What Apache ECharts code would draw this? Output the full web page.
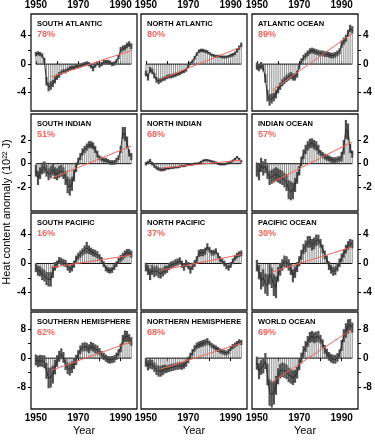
<!DOCTYPE html>
<html>
<head>
<meta charset="utf-8">
<script src="https://cdn.jsdelivr.net/npm/echarts@6/dist/echarts.min.js"></script>
<style>
  html, body { margin: 0; padding: 0; background: #fff; }
  #chart { width: 375px; height: 440px; }
</style>
</head>
<body>
<div id="chart"></div>
<script>
// years of the record, one value per year
const years = [1950, 1951, 1952, 1953, 1954, 1955, 1956, 1957, 1958, 1959,
  1960, 1961, 1962, 1963, 1964, 1965, 1966, 1967, 1968, 1969,
  1970, 1971, 1972, 1973, 1974, 1975, 1976, 1977, 1978, 1979,
  1980, 1981, 1982, 1983, 1984, 1985, 1986, 1987, 1988, 1989,
  1990, 1991, 1992, 1993, 1994, 1995];
const trendYears = [1957, 1995];

const xTicks = [1950, 1960, 1970, 1980, 1990];
const xLabels = [1950, 1970, 1990];
const rowTicks = [[-4, -2, 0, 2, 4], [-2, -1, 0, 1, 2], [-4, -2, 0, 2, 4], [-8, -4, 0, 4, 8]];
const rowLabels = [[-4, 0, 4], [-2, 0, 2], [-4, 0, 4], [-8, 0, 8]];

// heat content anomaly, 10^22 J
const southAtlantic = [1.4, 1.5, 1.4, 1.2, 0.5, -2.4, -3.2, -3.0, -2.7, -2.2,
  -1.8, -1.5, -1.2, -1.0, -1.0, -0.8, -0.6, -0.5, -0.5, -0.3,
  -0.3, -0.2, -0.1, 0.0, 0.1, 0.0, -0.3, -0.6, -0.2, 0.1,
  -0.2, 0.0, 0.3, 0.3, 0.3, 0.2, 0.0, 0.1, 0.4, 1.0,
  2.0, 2.2, 2.3, 2.6, 2.8, 2.5];
const southAtlanticErr = [0.3, 0.3, 0.3, 0.3, 0.4, 0.6, 0.6, 0.6, 0.5, 0.5,
  0.4, 0.4, 0.3, 0.3, 0.3, 0.3, 0.3, 0.3, 0.3, 0.3,
  0.3, 0.3, 0.3, 0.3, 0.3, 0.3, 0.3, 0.4, 0.3, 0.3,
  0.3, 0.3, 0.3, 0.3, 0.3, 0.3, 0.3, 0.3, 0.3, 0.3,
  0.4, 0.4, 0.4, 0.4, 0.4, 0.4];
const southAtlanticTrend = [-1.8, 1.9];

const northAtlantic = [-1.3, -1.8, -0.8, -1.0, -1.6, -2.2, -2.4, -2.3, -2.1, -2.0,
  -1.8, -1.7, -1.7, -1.6, -1.5, -1.4, -1.3, -1.1, -1.0, -0.8,
  -0.3, 0.1, 0.4, 0.9, 1.4, 1.8, 1.9, 1.9, 1.8, 1.7,
  1.5, 1.3, 1.2, 1.1, 1.1, 1.1, 1.0, 1.0, 1.0, 1.1,
  1.2, 1.3, 1.5, 1.9, 2.3, 2.7];
const northAtlanticErr = [0.4, 0.5, 0.4, 0.4, 0.4, 0.4, 0.4, 0.3, 0.3, 0.3,
  0.3, 0.3, 0.3, 0.3, 0.3, 0.25, 0.25, 0.25, 0.25, 0.25,
  0.25, 0.25, 0.25, 0.25, 0.25, 0.25, 0.25, 0.25, 0.25, 0.25,
  0.2, 0.2, 0.2, 0.2, 0.2, 0.2, 0.2, 0.2, 0.2, 0.2,
  0.25, 0.25, 0.25, 0.3, 0.3, 0.3];
const northAtlanticTrend = [-2.1, 2.4];

const atlanticOcean = [-0.3, -0.5, -0.2, -0.5, -2.0, -4.4, -5.0, -4.8, -4.6, -4.2,
  -3.6, -3.1, -2.6, -2.3, -2.0, -1.8, -1.6, -1.8, -1.8, -1.4,
  -0.3, 0.4, 0.9, 1.2, 1.5, 1.8, 1.9, 1.8, 1.7, 1.6,
  1.5, 1.5, 1.4, 1.4, 1.3, 1.2, 1.2, 1.3, 1.5, 1.8,
  2.8, 3.2, 3.6, 4.3, 5.0, 4.8];
const atlanticOceanErr = [0.5, 0.5, 0.5, 0.5, 0.6, 0.8, 0.8, 0.7, 0.6, 0.6,
  0.5, 0.5, 0.5, 0.5, 0.5, 0.5, 0.5, 0.5, 0.5, 0.5,
  0.4, 0.4, 0.4, 0.4, 0.4, 0.4, 0.4, 0.4, 0.4, 0.4,
  0.4, 0.4, 0.4, 0.4, 0.4, 0.4, 0.4, 0.4, 0.4, 0.4,
  0.5, 0.5, 0.5, 0.5, 0.5, 0.5];
const atlanticOceanTrend = [-3.7, 4.3];

const southIndian = [-0.6, -1.2, -0.8, -0.4, -0.3, -0.6, -0.9, -0.7, -0.5, -0.8,
  -0.9, -0.7, -0.6, -0.8, -1.2, -1.8, -2.0, -1.7, -1.0, -0.3,
  0.2, 0.6, 1.0, 1.2, 1.4, 1.6, 1.6, 1.5, 1.2, 0.8,
  0.5, 0.4, 0.3, 0.3, 0.2, 0.1, 0.1, 0.1, 0.3, 0.5,
  1.2, 2.6, 2.5, 1.8, 0.9, 0.6];
const southIndianErr = [0.5, 0.6, 0.5, 0.5, 0.5, 0.5, 0.5, 0.5, 0.5, 0.5,
  0.5, 0.5, 0.5, 0.5, 0.6, 0.7, 0.7, 0.6, 0.5, 0.4,
  0.3, 0.3, 0.3, 0.3, 0.3, 0.3, 0.3, 0.3, 0.3, 0.3,
  0.2, 0.2, 0.2, 0.2, 0.2, 0.2, 0.2, 0.2, 0.2, 0.2,
  0.3, 0.5, 0.6, 0.5, 0.3, 0.3];
const southIndianTrend = [-1.25, 1.5];

const northIndian = [0.0, 0.1, 0.25, 0.0, -0.2, -0.35, -0.45, -0.5, -0.5, -0.45,
  -0.4, -0.4, -0.35, -0.35, -0.3, -0.3, -0.25, -0.2, -0.2, -0.15,
  -0.1, -0.1, -0.05, 0.0, 0.0, 0.05, 0.15, 0.25, 0.3, 0.3,
  0.25, 0.2, 0.15, 0.1, 0.0, -0.05, -0.05, -0.05, 0.0, 0.05,
  0.15, 0.25, 0.4, 0.55, 0.4, 0.2];
const northIndianErr = [0.15, 0.15, 0.15, 0.15, 0.15, 0.15, 0.15, 0.15, 0.15, 0.15,
  0.1, 0.1, 0.1, 0.1, 0.1, 0.1, 0.1, 0.1, 0.1, 0.1,
  0.1, 0.1, 0.1, 0.1, 0.1, 0.1, 0.1, 0.1, 0.1, 0.1,
  0.1, 0.1, 0.1, 0.1, 0.1, 0.1, 0.1, 0.1, 0.1, 0.1,
  0.1, 0.1, 0.1, 0.1, 0.1, 0.1];
const northIndianTrend = [-0.38, 0.3];

const indianOcean = [-0.5, -0.7, -0.1, -0.4, -0.2, -0.7, -1.2, -1.1, -1.0, -0.9,
  -1.0, -1.1, -1.2, -1.4, -1.6, -2.2, -2.3, -2.3, -1.8, -1.2,
  -0.6, 0.2, 0.8, 1.2, 1.5, 1.7, 1.75, 1.6, 1.5, 1.2,
  0.9, 0.75, 0.6, 0.5, 0.45, 0.35, 0.3, 0.3, 0.35, 0.4,
  0.6, 1.4, 2.9, 2.7, 1.3, 0.8];
const indianOceanErr = [0.6, 0.7, 0.6, 0.6, 0.6, 0.6, 0.6, 0.6, 0.6, 0.6,
  0.6, 0.6, 0.6, 0.6, 0.7, 0.8, 0.8, 0.7, 0.6, 0.5,
  0.4, 0.4, 0.4, 0.4, 0.4, 0.4, 0.4, 0.4, 0.4, 0.4,
  0.25, 0.25, 0.25, 0.25, 0.25, 0.25, 0.25, 0.25, 0.25, 0.25,
  0.4, 0.6, 0.8, 0.7, 0.4, 0.3];
const indianOceanTrend = [-1.6, 1.85];

const southPacific = [-0.6, -1.0, -1.1, -1.5, -1.7, -2.1, -2.2, -2.2, -1.2, -0.4,
  -0.1, 0.4, 0.3, 0.1, 0.0, -0.5, -0.8, -0.6, -0.1, 0.6,
  1.0, 1.3, 1.6, 1.9, 2.2, 1.9, 1.7, 1.5, 1.4, 1.2,
  0.9, 0.5, -0.1, -0.7, -0.9, -1.0, -0.9, -0.5, -0.1, 0.4,
  0.7, 1.0, 1.3, 1.5, 1.5, 1.3];
const southPacificErr = [0.6, 0.7, 0.7, 0.8, 0.8, 0.9, 1.0, 1.0, 0.8, 0.6,
  0.5, 0.5, 0.5, 0.5, 0.5, 0.5, 0.5, 0.5, 0.5, 0.5,
  0.5, 0.5, 0.5, 0.6, 0.8, 0.6, 0.5, 0.5, 0.5, 0.5,
  0.4, 0.4, 0.4, 0.4, 0.4, 0.4, 0.4, 0.4, 0.4, 0.4,
  0.5, 0.5, 0.5, 0.5, 0.5, 0.5];
const southPacificTrend = [-0.55, 1.15];

const northPacific = [-0.5, -0.9, -1.5, -0.9, -1.2, -1.0, -1.3, -1.4, -1.2, -0.9,
  -0.8, -0.4, -0.2, -0.1, 0.1, 0.2, 0.35, -0.1, -0.5, 0.0,
  -0.3, -0.9, -0.4, 0.0, 0.5, 1.4, 1.5, 1.5, 1.7, 2.3,
  1.9, 1.5, 1.5, 1.7, 1.1, 0.6, 0.3, 0.0, -0.4, -0.6,
  -0.2, 0.3, 0.8, 1.1, 1.3, 1.4];
const northPacificErr = [0.6, 0.7, 0.8, 0.7, 0.7, 0.7, 0.7, 0.7, 0.6, 0.6,
  0.5, 0.5, 0.5, 0.5, 0.5, 0.5, 0.5, 0.5, 0.5, 0.5,
  0.5, 0.5, 0.5, 0.5, 0.5, 0.5, 0.5, 0.5, 0.5, 0.5,
  0.4, 0.4, 0.4, 0.4, 0.4, 0.4, 0.4, 0.4, 0.4, 0.4,
  0.4, 0.4, 0.4, 0.4, 0.4, 0.4];
const northPacificTrend = [-0.95, 1.25];

const pacificOcean = [-0.3, -1.2, -2.4, -2.0, -2.8, -3.0, -1.5, -2.0, -3.0, -3.3,
  -1.5, -0.8, -0.2, 0.3, 0.2, -0.2, -0.8, -1.7, -1.2, -0.5,
  0.3, 1.2, 2.0, 2.4, 3.0, 3.0, 2.6, 2.8, 3.2, 3.3,
  2.8, 2.0, 1.2, 0.5, -0.3, -0.8, -1.1, -1.0, -0.5, 0.1,
  0.8, 1.4, 2.0, 2.5, 2.8, 2.7];
const pacificOceanErr = [0.8, 1.0, 1.2, 1.2, 1.4, 1.5, 1.4, 1.4, 1.5, 1.5,
  1.0, 0.9, 0.8, 0.8, 0.8, 0.8, 0.8, 0.9, 0.8, 0.7,
  0.7, 0.7, 0.7, 0.8, 0.8, 0.8, 0.8, 0.8, 0.8, 0.7,
  0.6, 0.6, 0.6, 0.6, 0.6, 0.6, 0.6, 0.6, 0.6, 0.6,
  0.6, 0.6, 0.6, 0.6, 0.6, 0.6];
const pacificOceanTrend = [-1.2, 2.3];

const southernHemisphere = [-0.5, -0.9, -0.7, -0.8, -1.0, -3.5, -5.5, -5.3, -4.5, -2.5,
  -0.8, 0.5, 1.2, 0.2, -1.8, -2.8, -3.2, -2.5, -1.5, -0.5,
  1.0, 2.3, 3.0, 3.2, 3.0, 2.6, 3.3, 3.0, 2.6, 2.3,
  1.8, 1.0, 0.5, 0.0, -0.4, -0.5, -0.4, -0.2, 0.5, 1.5,
  2.8, 5.0, 6.0, 6.0, 5.3, 4.6];
const southernHemisphereErr = [1.5, 1.6, 1.6, 1.6, 1.8, 2.2, 2.8, 2.8, 2.5, 2.0,
  1.6, 1.5, 1.5, 1.5, 1.5, 1.6, 1.6, 1.6, 1.5, 1.4,
  1.2, 1.2, 1.2, 1.2, 1.2, 1.2, 1.2, 1.2, 1.2, 1.2,
  1.0, 1.0, 1.0, 1.0, 1.0, 1.0, 1.0, 1.0, 1.0, 1.0,
  1.2, 1.4, 1.6, 1.5, 1.3, 1.2];
const southernHemisphereTrend = [-3.4, 4.5];

const northernHemisphere = [-1.2, -2.0, -1.6, -1.8, -2.5, -3.2, -3.6, -3.6, -3.3, -3.0,
  -3.0, -2.8, -2.6, -2.5, -2.3, -2.2, -2.1, -2.2, -1.9, -1.4,
  -0.5, 0.6, 1.6, 2.7, 3.4, 3.7, 3.9, 4.1, 4.3, 4.6,
  4.1, 3.5, 3.1, 2.8, 2.4, 2.0, 1.8, 1.6, 1.4, 1.8,
  2.7, 3.2, 3.6, 4.0, 4.5, 4.3];
const northernHemisphereErr = [1.2, 1.4, 1.3, 1.3, 1.3, 1.4, 1.5, 1.5, 1.4, 1.2,
  1.0, 1.0, 1.0, 1.0, 1.0, 1.0, 1.0, 1.0, 1.0, 1.0,
  0.9, 0.9, 0.9, 0.9, 0.9, 0.9, 0.9, 0.9, 0.9, 0.9,
  0.7, 0.7, 0.7, 0.7, 0.7, 0.7, 0.7, 0.7, 0.7, 0.7,
  0.7, 0.7, 0.7, 0.7, 0.7, 0.7];
const northernHemisphereTrend = [-3.0, 4.1];

const worldOcean = [-1.4, -3.6, -2.6, -2.2, -0.8, -4.5, -9.5, -10.0, -9.6, -7.5,
  -5.0, -3.6, -3.2, -3.4, -3.8, -4.6, -5.0, -5.4, -5.0, -4.0,
  -1.8, 0.0, 1.8, 3.2, 4.6, 5.7, 6.0, 5.6, 5.8, 6.0,
  5.2, 4.0, 2.4, 1.4, 0.5, 0.0, -0.3, -0.3, 0.2, 1.2,
  3.5, 6.2, 7.6, 8.7, 9.2, 8.4];
const worldOceanErr = [1.8, 2.2, 2.0, 2.0, 2.2, 3.0, 3.6, 3.6, 3.2, 2.6,
  2.2, 2.0, 2.0, 2.0, 2.0, 2.0, 2.0, 2.0, 1.8, 1.6,
  1.5, 1.5, 1.5, 1.5, 1.5, 1.5, 1.5, 1.5, 1.5, 1.5,
  1.2, 1.2, 1.2, 1.2, 1.2, 1.2, 1.2, 1.2, 1.2, 1.2,
  1.5, 1.8, 2.0, 2.0, 1.6, 1.4];
const worldOceanTrend = [-6.6, 8.0];

const panelNames = ['SOUTH ATLANTIC', 'NORTH ATLANTIC', 'ATLANTIC OCEAN',
  'SOUTH INDIAN', 'NORTH INDIAN', 'INDIAN OCEAN',
  'SOUTH PACIFIC', 'NORTH PACIFIC', 'PACIFIC OCEAN',
  'SOUTHERN HEMISPHERE', 'NORTHERN HEMISPHERE', 'WORLD OCEAN'];
const panelPercents = ['78%', '80%', '89%', '51%', '68%', '57%', '16%', '37%', '30%', '62%', '68%', '69%'];
const panelValues = [southAtlantic, northAtlantic, atlanticOcean, southIndian, northIndian, indianOcean,
  southPacific, northPacific, pacificOcean, southernHemisphere, northernHemisphere, worldOcean];
const panelErrors = [southAtlanticErr, northAtlanticErr, atlanticOceanErr, southIndianErr, northIndianErr, indianOceanErr,
  southPacificErr, northPacificErr, pacificOceanErr, southernHemisphereErr, northernHemisphereErr, worldOceanErr];
const panelTrends = [southAtlanticTrend, northAtlanticTrend, atlanticOceanTrend, southIndianTrend, northIndianTrend, indianOceanTrend,
  southPacificTrend, northPacificTrend, pacificOceanTrend, southernHemisphereTrend, northernHemisphereTrend, worldOceanTrend];

// layout
const colLeft = [31, 141, 252];
const colWidth = 106;
const rowTop = [14, 114, 213, 312];
const rowHeight = 97;
const rowRange = [[-6.55, 7.0], [-4.0, 4.2], [-6.45, 7.0], [-14, 12.7]];
const font = 'Liberation Sans';

function renderBar(params, api) {
  const base = api.coord([api.value(0), 0]);
  const tip = api.coord([api.value(0), api.value(1)]);
  return {
    type: 'line',
    shape: { x1: base[0], y1: base[1], x2: tip[0], y2: tip[1] },
    style: { stroke: '#8c8c8c', lineWidth: 1 }
  };
}

function renderErr(params, api) {
  const hi = api.coord([api.value(0), api.value(1) + api.value(2)]);
  const lo = api.coord([api.value(0), api.value(1) - api.value(2)]);
  return {
    type: 'rect',
    shape: { x: hi[0] - 1.1, y: hi[1], width: 2.2, height: lo[1] - hi[1] },
    style: { fill: '#4f4f4f' }
  };
}

const grids = [], xAxes = [], yAxes = [], series = [], graphics = [];

panelNames.forEach((name, i) => {
  const r = Math.floor(i / 3), c = i % 3;
  const vals = panelValues[i], errs = panelErrors[i], trend = panelTrends[i];

  grids.push({
    left: colLeft[c], top: rowTop[r], width: colWidth, height: rowHeight,
    show: true, borderColor: '#1a1a1a', borderWidth: 1.3, backgroundColor: '#fff',
    outerBoundsMode: 'none', containLabel: false
  });

  const outerX = r === 0 || r === 3;
  xAxes.push({
    gridIndex: i, type: 'value', min: 1947.7, max: 1997.7,
    position: r === 0 ? 'top' : 'bottom',
    axisLine: { show: false }, splitLine: { show: false },
    axisTick: { show: outerX, customValues: xTicks, length: 3, lineStyle: { color: '#000', width: 1 } },
    axisLabel: {
      show: outerX, customValues: xLabels, margin: 4,
      formatter: v => String(v),
      color: '#000', fontSize: 10, fontWeight: 'bold', fontFamily: font
    },
    name: r === 3 ? 'Year' : '', nameLocation: 'middle', nameGap: 16,
    nameTextStyle: { color: '#000', fontSize: 11, fontFamily: font }
  });

  const outerY = c !== 1;
  yAxes.push({
    gridIndex: i, type: 'value', min: rowRange[r][0], max: rowRange[r][1],
    position: c === 2 ? 'right' : 'left',
    axisLine: { show: false }, splitLine: { show: false },
    axisTick: { show: outerY, customValues: rowTicks[r], length: 3, lineStyle: { color: '#000', width: 1 } },
    axisLabel: {
      show: outerY, customValues: rowLabels[r], margin: 5,
      formatter: v => String(v),
      color: '#000', fontSize: 10, fontWeight: 'bold', fontFamily: font
    }
  });

  series.push({
    type: 'custom', xAxisIndex: i, yAxisIndex: i, z: 1,
    renderItem: renderBar,
    data: years.map((y, k) => [y, vals[k]])
  });
  series.push({
    type: 'line', xAxisIndex: i, yAxisIndex: i, z: 2,
    symbol: 'none', lineStyle: { color: '#111', width: 1 },
    data: [[years[0], 0], [years[years.length - 1], 0]]
  });
  series.push({
    type: 'custom', xAxisIndex: i, yAxisIndex: i, z: 3,
    renderItem: renderErr,
    data: years.map((y, k) => [y, vals[k], errs[k]])
  });
  series.push({
    type: 'line', xAxisIndex: i, yAxisIndex: i, z: 4,
    symbol: 'none', lineStyle: { color: '#2b2b2b', width: 1 },
    data: years.map((y, k) => [y, vals[k]])
  });
  series.push({
    type: 'line', xAxisIndex: i, yAxisIndex: i, z: 5,
    symbol: 'none', lineStyle: { color: '#f0645a', width: 1 },
    data: trendYears.map((y, k) => [y, trend[k]])
  });

  graphics.push({
    type: 'text', left: colLeft[c] + 6, top: rowTop[r] + 6, z: 10,
    style: { text: name, fill: '#000', fontSize: 7.5, fontWeight: 'bold', fontFamily: font }
  });
  graphics.push({
    type: 'text', left: colLeft[c] + 6, top: rowTop[r] + 16, z: 10,
    style: { text: panelPercents[i], fill: '#f0645a', fontSize: 9, fontWeight: 'bold', fontFamily: font }
  });
});

graphics.push({
  type: 'text', x: 7, y: 212, rotation: Math.PI / 2,
  style: {
    text: 'Heat content anomaly (10²² J)', fill: '#000',
    fontSize: 11, fontFamily: font, align: 'center', verticalAlign: 'middle'
  }
});

const chart = echarts.init(document.getElementById('chart'), null, { renderer: 'canvas' });
chart.setOption({
  animation: false,
  backgroundColor: '#fff',
  grid: grids,
  xAxis: xAxes,
  yAxis: yAxes,
  series: series,
  graphic: graphics
});
</script>
</body>
</html>
